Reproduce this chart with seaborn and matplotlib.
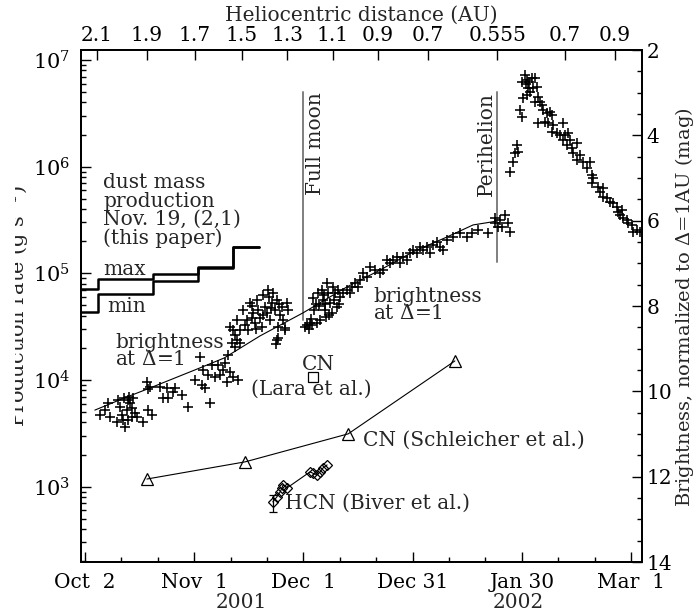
import numpy as np
import pandas as pd
import matplotlib
matplotlib.use("Agg")
import matplotlib.pyplot as plt
import seaborn as sns
from matplotlib.ticker import (FixedLocator, FixedFormatter, MultipleLocator,
                               LogLocator, NullFormatter, NullLocator)
from matplotlib.transforms import Bbox, TransformedBbox, blended_transform_factory

# ------------------------------------------------------------------ data
# time axis: days after 2001 Oct 2
date_tick_days = [0, 30, 60, 90, 120, 150]
date_tick_labels = ["Oct  2", "Nov  1", "Dec  1", "Dec 31", "Jan 30", "Mar  1"]
year_label_days = [43, 119]
year_labels = ["2001", "2002"]
helio_tick_days = [3.3, 17.0, 30.2, 43.1, 55.5, 68.1, 80.5, 94.2, 113.2, 131.9, 145.6]
helio_tick_labels = ["2.1", "1.9", "1.7", "1.5", "1.3", "1.1", "0.9", "0.7", "0.555", "0.7", "0.9"]

# brightness normalized to Delta = 1 AU (mag)
bright_oct_day = [4.1, 5.5, 6.3, 6.9, 8.8, 9.1, 9.6, 10.2, 10.4, 10.7, 11.0, 11.5, 11.8, 11.8, 12.1,
                  12.4, 12.9, 12.9, 13.2, 13.7, 14.3, 15.9, 17.0, 17.3, 17.9, 18.4, 17.3, 20.6, 21.4,
                  22.5, 22.8, 24.2, 24.7, 26.6, 28.3, 30.2, 31.6, 32.1, 32.4, 33.0, 33.8, 34.3, 34.9,
                  35.7, 36.5, 37.1, 37.9, 38.5, 39.0, 39.3, 39.8, 40.4, 40.7, 41.2, 42.0, 42.6]
bright_oct_mag = [10.55, 10.44, 10.27, 10.60, 10.72, 10.20, 10.37, 10.55, 10.67, 10.16, 10.83, 10.44,
                  10.20, 10.67, 10.13, 10.27, 10.39, 10.60, 10.16, 10.51, 10.60, 10.72, 9.78, 10.44,
                  9.90, 10.55, 9.95, 9.90, 10.16, 9.92, 10.16, 10.01, 9.92, 10.08, 10.37, 9.73, 9.20,
                  9.85, 9.50, 9.92, 9.62, 10.27, 9.38, 9.66, 9.38, 9.62, 9.50, 9.34, 9.78, 9.15, 9.55,
                  8.87, 9.66, 8.96, 9.73, 8.87]
bright_nov_day = [39.8, 40.7, 41.8, 41.8, 42.6, 41.2, 43.4, 44.0, 44.5, 44.8, 45.3, 45.9, 46.2, 46.7,
                  47.3, 47.5, 48.1, 48.6, 48.9, 49.5, 50.0, 50.3, 50.8, 51.4, 51.6, 52.2, 52.7, 53.0,
                  53.6, 54.1, 54.4, 54.9, 55.5, 55.8, 52.7, 52.4, 53.0, 54.9,
                  46.0, 49.0, 51.0, 53.3, 47.0, 50.5]
bright_nov_mag = [8.49, 8.56, 8.80, 8.33, 8.56, 8.68, 8.09, 8.45, 8.33, 8.56, 7.93, 8.28, 8.16, 8.40,
                  7.86, 8.09, 8.28, 8.49, 7.74, 8.02, 8.16, 7.62, 8.33, 7.93, 7.69, 8.09, 7.86, 8.49,
                  8.21, 8.02, 8.33, 8.56, 7.93, 8.09, 8.80, 8.90, 8.75, 8.52,
                  8.00, 8.20, 8.05, 7.95, 8.55, 7.80]
bright_dec_day = [60.4, 61.0, 61.8, 62.4, 63.7, 64.6, 62.6, 64.0, 65.1, 65.4, 65.9, 66.5, 66.8, 67.3,
                  67.9, 68.1, 68.7, 69.2, 69.5, 70.1, 70.9, 72.0, 72.8, 73.4, 74.2, 75.0, 75.5, 76.4,
                  77.5, 78.3, 79.7, 81.0, 81.9, 83.0, 83.8, 84.6, 85.7, 86.5, 87.4, 88.5, 89.3, 90.1,
                  91.2, 92.0, 92.9, 94.0, 94.8, 95.6, 96.7, 97.5, 98.4, 99.5, 101.1, 103.0, 104.9,
                  106.3, 108.0, 110.7, 112.6, 112.6, 113.5,
                  62.0, 63.0, 64.3, 66.0, 67.0, 68.4, 63.5, 65.6, 69.8, 61.5, 66.2]
bright_dec_mag = [8.49, 8.45, 8.40, 8.45, 8.40, 8.33, 7.81, 7.69, 7.62, 7.86, 8.09, 7.46, 7.69, 7.93,
                  8.16, 7.55, 7.69, 8.02, 7.62, 7.79, 7.69, 7.62, 7.69, 7.55, 7.46, 7.55, 7.39, 7.23,
                  7.32, 7.09, 7.16, 7.23, 7.16, 6.92, 6.99, 6.92, 6.85, 6.99, 6.85, 6.92, 6.76, 6.69,
                  6.76, 6.62, 6.69, 6.62, 6.76, 6.57, 6.50, 6.62, 6.69, 6.45, 6.38, 6.29, 6.38,
                  6.29, 6.22, 6.29, 6.05, 5.94, 6.15,
                  8.30, 8.10, 8.00, 7.95, 8.20, 7.85, 7.95, 7.75, 7.95, 8.55, 8.25]
bright_jan_day = [114.0, 114.6, 115.4, 116.2, 116.8, 116.8, 117.6, 118.1, 118.7, 119.0, 119.5, 120.1,
                  120.3, 120.1, 120.9, 121.4, 121.7, 122.3, 122.8, 123.6, 124.2, 124.5, 123.6, 125.0,
                  125.5, 125.8, 126.9, 127.7, 128.3, 124.5, 126.4, 127.2, 128.6, 128.3, 129.7, 130.5,
                  131.3, 131.9, 132.7, 133.2, 131.3, 132.4, 133.8, 134.1, 135.2, 136.0, 135.2, 136.8,
                  137.9, 138.7, 139.3, 139.6, 139.3, 140.9, 141.5, 142.3, 142.3, 143.4, 144.2, 145.1,
                  146.2, 146.4, 147.5, 147.0, 147.8, 148.9, 149.2, 150.3, 150.5, 151.6, 152.5,
                  121.0, 122.0, 123.0, 121.5]
bright_jan_mag = [5.98, 6.15, 5.87, 6.05, 6.27, 4.86, 4.62, 4.41, 4.23, 4.39, 3.40, 3.57,
                  3.12, 2.75, 2.59, 2.70, 2.89, 2.98, 2.66, 2.66, 2.87, 3.10, 3.22, 3.22,
                  3.29, 3.40, 3.48, 3.45, 3.52, 3.71, 3.69, 3.71, 3.76, 3.92, 3.95, 3.99,
                  3.71, 3.99, 3.95, 4.11, 4.11, 4.23, 4.30, 4.41, 4.18, 4.46, 4.58, 4.62,
                  4.77, 4.62, 4.93, 5.00, 5.12, 5.21, 5.33, 5.23, 5.45, 5.47, 5.56, 5.59,
                  5.68, 5.80, 5.75, 5.87, 5.94, 5.98, 6.05, 6.10, 6.27, 6.22, 6.27,
                  2.80, 2.75, 2.90, 3.05]

# smooth fit to the pre-outburst brightness (mag)
fit_day = [2.7, 10.7, 17.9, 31.6, 38.2, 48.1, 59.9, 72.0, 81.0, 90.1, 99.5, 106.6, 113.2]
fit_mag = [10.44, 10.16, 9.92, 9.45, 9.22, 8.70, 8.16, 7.55, 7.16, 6.73, 6.38, 6.10, 6.01]

# dust mass production, Nov. 19 (2,1) model (g/s), step functions
dust_day = [-1.1, 3.6, 18.7, 31.0, 40.7, 47.8]
dust_max = [7.15e4, 8.86e4, 9.87e4, 1.15e5, 1.77e5, 1.77e5]
dust_min = [4.35e4, 6.41e4, 8.49e4, 1.13e5, 1.75e5, 1.75e5]

# CN (Schleicher et al.)
cn_s_day = [17.0, 44.0, 72.3, 101.6]
cn_s_q = [1180, 1710, 3130, 15100]
# CN (Lara et al.)
cn_l_day = [62.6]
cn_l_q = [1.07e4]
# HCN (Biver et al.)
hcn_day = [51.6, 52.7, 53.6, 54.1, 54.4, 55.5, 61.8, 62.6, 63.7, 64.6, 65.4, 66.5]
hcn_q = [721, 802, 893, 974, 1040, 974, 1377, 1338, 1291, 1377, 1500, 1600]
hcn_err_lo = [140]
hcn_err_hi = [117]

full_moon_day = 59.9
full_moon_q = [5.0e6, 3.66e4]
perihelion_day = 113.2
perihelion_q = [5.0e6, 1.28e5]

# ------------------------------------------------------------------ style
sns.set_theme(style="ticks")
plt.rcParams["font.family"] = ["DejaVu Serif"]
plt.rcParams["mathtext.fontset"] = "dejavuserif"
FS = 14.5

W, H = 698, 616
fig = plt.figure(figsize=(W / 100, H / 100), dpi=100)
L, R, T, B = 81, 642, 50, 562
ax = fig.add_axes([L / W, 1 - B / H, (R - L) / W, (B - T) / H])
ax.set_yscale("log")
ax2 = ax.twinx()
ax3 = ax.twiny()


def P(x, y):
    """pixel position -> axes fraction (for text placement)"""
    return (x - L) / (R - L), (B - y) / (B - T)


# ------------------------------------------------------------------ marks
bright = pd.DataFrame({
    "day": bright_oct_day + bright_nov_day + bright_dec_day + bright_jan_day,
    "mag": bright_oct_mag + bright_nov_mag + bright_dec_mag + bright_jan_mag,
})
sns.scatterplot(data=bright, x="day", y="mag", ax=ax2, marker="+", s=60,
                color="black", linewidth=1.15, legend=False, zorder=3)
sns.lineplot(x=fit_day, y=fit_mag, ax=ax2, color="black", lw=0.8,
             estimator=None, sort=False, errorbar=None)

sns.lineplot(x=dust_day, y=dust_max, ax=ax, color="black", lw=1.8,
             drawstyle="steps-post", estimator=None, errorbar=None)
sns.lineplot(x=dust_day, y=dust_min, ax=ax, color="black", lw=1.8,
             drawstyle="steps-post", estimator=None, errorbar=None)

sns.lineplot(x=cn_s_day, y=cn_s_q, ax=ax, color="black", lw=0.8, marker="^",
             markersize=8, markerfacecolor="none", markeredgecolor="black",
             markeredgewidth=0.9, estimator=None, errorbar=None)
sns.lineplot(x=cn_l_day, y=cn_l_q, ax=ax, color="black", lw=0, marker="s",
             markersize=7.5, markerfacecolor="none", markeredgecolor="black",
             markeredgewidth=0.9, estimator=None, errorbar=None)
sns.lineplot(x=hcn_day, y=hcn_q, ax=ax, color="black", lw=0.8, marker="D",
             markersize=5.5, markerfacecolor="none", markeredgecolor="black",
             markeredgewidth=0.9, estimator=None, errorbar=None)
ax.errorbar(hcn_day[:1], hcn_q[:1], yerr=[hcn_err_lo, hcn_err_hi], fmt="none",
            ecolor="black", elinewidth=0.9, capsize=3, capthick=0.9)

ax.plot([full_moon_day, full_moon_day], full_moon_q, color="#7f7f7f", lw=1.4)
ax.plot([perihelion_day, perihelion_day], perihelion_q, color="#7f7f7f", lw=1.4)

# ------------------------------------------------------------------ axes
xlim = (-1.1, 153.0)
ax.set_xlim(xlim)
ax3.set_xlim(xlim)
ax.set_ylim(196.8, 1.242e7)
ax2.set_ylim(14, 2)
for a in (ax, ax2, ax3):
    a.set_xlabel("")
    a.set_ylabel("")
    a.grid(False)
    for s in a.spines.values():
        s.set_color("black")
        s.set_linewidth(1.2)

ax.xaxis.set_major_locator(FixedLocator(date_tick_days))
ax.xaxis.set_major_formatter(FixedFormatter(date_tick_labels))
ax.xaxis.set_minor_locator(MultipleLocator(10))
ax.yaxis.set_major_locator(LogLocator(base=10, numticks=12))
ax.yaxis.set_minor_locator(LogLocator(base=10, subs=np.arange(2, 10), numticks=12))
ax.yaxis.set_minor_formatter(NullFormatter())
ax.tick_params(axis="x", which="major", direction="in", length=7.2, width=1.0,
               pad=8, labelsize=FS, colors="black", top=False)
ax.tick_params(axis="x", which="minor", direction="in", length=3.6, width=1.0,
               colors="black", top=False)
ax.tick_params(axis="y", which="major", direction="in", length=7.2, width=1.0,
               pad=8, labelsize=FS + 0.5, colors="black", right=False)
ax.tick_params(axis="y", which="minor", direction="in", length=3.6, width=1.0,
               colors="black", right=False)

ax2.yaxis.set_major_locator(MultipleLocator(2))
ax2.yaxis.set_minor_locator(MultipleLocator(0.5))
ax2.tick_params(axis="y", which="major", direction="in", length=7.2, width=1.0,
                pad=3.5, labelsize=FS, colors="black")
ax2.tick_params(axis="y", which="minor", direction="in", length=3.6, width=1.0,
                colors="black")

ax3.xaxis.set_major_locator(FixedLocator(helio_tick_days))
ax3.xaxis.set_major_formatter(FixedFormatter(helio_tick_labels))
ax3.xaxis.set_minor_locator(NullLocator())
ax3.tick_params(axis="x", which="major", direction="in", length=7.2, width=1.0,
                pad=3.5, labelsize=FS, colors="black")

# year labels under the date axis
ytrans = blended_transform_factory(ax.transData, ax.transAxes)
for d, lab in zip(year_label_days, year_labels):
    ax.text(d, P(0, 602)[1], lab, transform=ytrans, ha="center", va="center", fontsize=FS)

# axis titles
fig.text(((L + R) / 2) / W, 1 - 15 / H, "Heliocentric distance (AU)",
         ha="center", va="center", fontsize=FS)
fig.text(685 / W, 1 - 307 / H, "Brightness, normalized to $\\Delta$=1AU (mag)",
         ha="center", va="center", rotation=90, fontsize=14)
lt = fig.text(32 / W, 1 - 306 / H, "Production rate (g s$^{-1}$)",
              ha="right", va="center", rotation=90, fontsize=FS + 0.5)
lt.set_clip_box(TransformedBbox(Bbox.from_extents(15 / W, 0, 1, 1), fig.transFigure))
lt.set_clip_on(True)

# ------------------------------------------------------------------ annotations
def note(x, y, s, **kw):
    fx, fy = P(x, y)
    kw.setdefault("va", "baseline")
    kw.setdefault("ha", "left")
    ax.text(fx, fy, s, transform=ax.transAxes, fontsize=FS, **kw)


note(103, 173, "dust mass\nproduction\nNov. 19, (2,1)\n(this paper)",
     va="top", linespacing=0.97)
note(103, 275, "max")
note(107, 312, "min")
note(115, 333, "brightness\nat $\\Delta$=1", va="top", linespacing=0.87)
note(373, 287, "brightness\nat $\\Delta$=1", va="top", linespacing=0.87)
note(302, 370, "CN")
note(251, 395, "(Lara et al.)")
note(363, 446, "CN (Schleicher et al.)")
note(285, 509, "HCN (Biver et al.)")
note(306, 92, "Full moon", rotation=90, va="top")
note(477, 92, "Perihelion", rotation=90, va="top")

fig.savefig("out.png", dpi=100)
